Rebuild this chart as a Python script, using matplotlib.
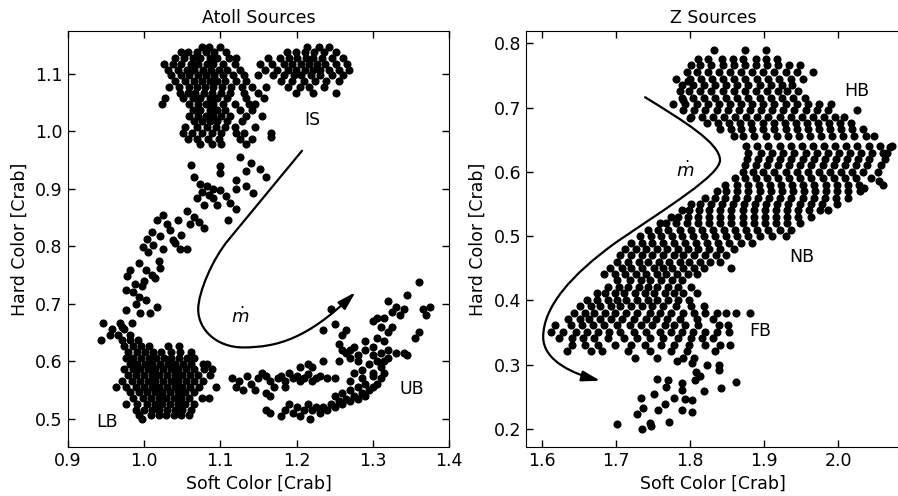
import matplotlib.pyplot as plt
from matplotlib.patches import FancyArrowPatch
from matplotlib.path import Path

# ---------------- Atoll sources (left panel) ----------------
# rows of (hard colour, [soft colours])
is_rows = [
    (1.146, [1.076, 1.085, 1.099]),
    (1.137, [1.048, 1.058, 1.069, 1.081, 1.092, 1.107]),
    (1.127, [1.041, 1.053, 1.064, 1.074, 1.086, 1.096, 1.111, 1.121]),
    (1.117, [1.026, 1.038, 1.049, 1.061, 1.071, 1.082, 1.091, 1.103, 1.119]),
    (1.107, [1.031, 1.044, 1.056, 1.066, 1.077, 1.088, 1.098, 1.109, 1.126]),
    (1.097, [1.036, 1.049, 1.059, 1.071, 1.081, 1.092, 1.104, 1.116, 1.131]),
    (1.087, [1.041, 1.054, 1.066, 1.076, 1.086, 1.096, 1.106, 1.121, 1.134]),
    (1.077, [1.033, 1.046, 1.059, 1.069, 1.080, 1.091, 1.102, 1.114, 1.129, 1.141]),
    (1.067, [1.047, 1.057, 1.067, 1.079, 1.089, 1.101, 1.113, 1.131, 1.149]),
    (1.057, [1.027, 1.051, 1.064, 1.074, 1.086, 1.096, 1.109, 1.134, 1.157]),
    (1.047, [1.024, 1.059, 1.071, 1.081, 1.091, 1.103, 1.119, 1.137, 1.146]),
    (1.037, [1.064, 1.074, 1.086, 1.096, 1.106, 1.126, 1.141]),
    (1.027, [1.059, 1.071, 1.081, 1.091, 1.101, 1.113, 1.134, 1.154]),
    (1.017, [1.066, 1.076, 1.086, 1.096, 1.109, 1.129]),
    (1.007, [1.054, 1.069, 1.083, 1.094, 1.106, 1.119, 1.146]),
    (0.997, [1.051, 1.063, 1.076, 1.089, 1.101, 1.121, 1.131, 1.166]),
    (0.987, [1.057, 1.070, 1.084, 1.098, 1.126, 1.141]),
    (0.977, [1.074, 1.089, 1.101, 1.133]),
]
is_right_rows = [
    (1.147, [1.213, 1.229, 1.243]),
    (1.137, [1.187, 1.199, 1.211, 1.223, 1.236, 1.251]),
    (1.127, [1.163, 1.178, 1.190, 1.201, 1.212, 1.222, 1.233, 1.246, 1.261]),
    (1.117, [1.152, 1.168, 1.183, 1.194, 1.206, 1.216, 1.226, 1.237, 1.251, 1.266]),
    (1.107, [1.158, 1.174, 1.188, 1.199, 1.211, 1.221, 1.231, 1.242, 1.256, 1.269]),
    (1.097, [1.150, 1.169, 1.184, 1.196, 1.206, 1.219, 1.231, 1.246, 1.261]),
    (1.087, [1.179, 1.194, 1.209, 1.224, 1.239, 1.256]),
    (1.077, [1.160, 1.188, 1.204, 1.216, 1.236]),
    (1.066, [1.199, 1.221, 1.251]),
]
arm_soft = [1.167, 1.062, 1.100, 1.100, 1.126, 1.140, 1.152, 1.160, 1.133, 1.121, 1.134, 1.143,
            1.121, 1.065, 1.073, 1.082, 1.090, 1.076, 1.085, 1.091, 1.070, 1.095, 1.079, 1.100,
            1.108, 1.113, 1.121, 1.056, 1.065, 1.072, 1.078, 1.060, 1.110, 1.025, 1.017, 1.045,
            1.034, 1.010, 1.021, 1.038, 1.048, 1.030, 0.999, 1.025, 1.047, 1.056, 1.012, 1.004,
            0.993, 1.003, 0.982, 1.021, 1.010, 0.978, 0.988, 0.997, 0.977, 0.993, 1.003, 1.017,
            0.977, 0.995, 1.008, 0.971, 0.984, 0.990, 0.985, 1.000, 1.015, 1.020, 1.005, 1.040]
arm_hard = [0.990, 0.941, 0.940, 0.927, 0.955, 0.945, 0.935, 0.921, 0.930, 0.915, 0.904, 0.893,
            0.899, 0.921, 0.909, 0.905, 0.900, 0.895, 0.889, 0.884, 0.884, 0.872, 0.872, 0.898,
            0.888, 0.876, 0.865, 0.862, 0.851, 0.842, 0.831, 0.838, 0.846, 0.854, 0.846, 0.846,
            0.828, 0.825, 0.817, 0.811, 0.820, 0.838, 0.799, 0.796, 0.796, 0.796, 0.802, 0.812,
            0.770, 0.759, 0.759, 0.762, 0.750, 0.748, 0.735, 0.730, 0.724, 0.712, 0.706, 0.695,
            0.689, 0.683, 0.683, 0.660, 0.666, 0.700, 0.720, 0.740, 0.745, 0.775, 0.790, 0.805]
lb_rows = [
    (0.666, [0.946, 0.969]),
    (0.656, [0.958, 0.974]),
    (0.646, [0.955, 0.966, 0.981]),
    (0.637, [0.944, 0.971, 0.982, 0.992]),
    (0.626, [0.974, 0.986, 0.996, 1.006, 1.031, 1.046]),
    (0.616, [0.979, 0.991, 1.001, 1.012, 1.022, 1.036, 1.047, 1.061]),
    (0.606, [0.976, 0.986, 0.996, 1.006, 1.016, 1.026, 1.036, 1.046, 1.056, 1.066]),
    (0.596, [0.981, 0.991, 1.001, 1.011, 1.021, 1.031, 1.041, 1.051, 1.061, 1.077, 1.082]),
    (0.586, [0.974, 0.985, 0.995, 1.005, 1.015, 1.025, 1.035, 1.045, 1.055, 1.066, 1.079, 1.089]),
    (0.576, [0.979, 0.990, 1.000, 1.010, 1.020, 1.030, 1.040, 1.050, 1.060, 1.071, 1.086]),
    (0.566, [0.971, 0.984, 0.995, 1.005, 1.015, 1.025, 1.035, 1.045, 1.055, 1.065, 1.077]),
    (0.556, [0.963, 0.976, 0.989, 1.000, 1.010, 1.020, 1.030, 1.040, 1.050, 1.060, 1.072, 1.094]),
    (0.546, [0.981, 0.994, 1.004, 1.014, 1.024, 1.034, 1.044, 1.054, 1.066]),
    (0.536, [0.986, 0.999, 1.009, 1.019, 1.029, 1.039, 1.049, 1.059, 1.076, 1.085]),
    (0.526, [0.976, 0.991, 1.004, 1.014, 1.024, 1.034, 1.044, 1.054, 1.066]),
    (0.516, [0.989, 1.000, 1.010, 1.020, 1.030, 1.040, 1.050, 1.061]),
    (0.506, [0.994, 1.009, 1.019, 1.029, 1.039, 1.049, 1.059]),
    (0.499, [0.997]),
]
ub_soft = [1.115, 1.120, 1.125, 1.130, 1.135, 1.140, 1.145, 1.150, 1.155, 1.160, 1.165, 1.170,
           1.175, 1.180, 1.185, 1.190, 1.195, 1.200, 1.205, 1.210, 1.215, 1.220, 1.225, 1.230,
           1.240, 1.250, 1.205, 1.215, 1.235, 1.160, 1.165, 1.160, 1.165, 1.185, 1.255,
           1.180, 1.185, 1.190, 1.195, 1.200, 1.205, 1.210, 1.215, 1.218, 1.220, 1.225, 1.230,
           1.235, 1.240, 1.245, 1.250, 1.255, 1.260, 1.265, 1.270, 1.275, 1.280, 1.285, 1.290,
           1.295, 1.300, 1.305, 1.310, 1.300, 1.290, 1.280, 1.270, 1.260, 1.250, 1.315, 1.310,
           1.305, 1.300, 1.295, 1.285, 1.280, 1.275, 1.270, 1.290, 1.300, 1.310, 1.315, 1.320,
           1.315, 1.305, 1.320, 1.325, 1.310, 1.315, 1.325, 1.330, 1.340, 1.300, 1.305, 1.270,
           1.265, 1.275, 1.280, 1.290, 1.260, 1.255, 1.270, 1.300, 1.285, 1.320, 1.330, 1.340,
           1.345, 1.360, 1.365, 1.370, 1.375, 1.360, 1.355, 1.345, 1.320, 1.335, 1.245, 1.250,
           1.235, 1.265, 1.260, 1.220]
ub_hard = [0.570, 0.555, 0.565, 0.550, 0.575, 0.560, 0.550, 0.570, 0.580, 0.575, 0.565, 0.555,
           0.570, 0.575, 0.565, 0.580, 0.570, 0.575, 0.565, 0.570, 0.578, 0.565, 0.570, 0.575,
           0.570, 0.570, 0.590, 0.595, 0.600, 0.545, 0.540, 0.515, 0.510, 0.555, 0.600,
           0.505, 0.515, 0.525, 0.510, 0.520, 0.505, 0.515, 0.525, 0.500, 0.515, 0.520, 0.510,
           0.520, 0.515, 0.525, 0.520, 0.530, 0.525, 0.535, 0.530, 0.540, 0.535, 0.545, 0.540,
           0.550, 0.555, 0.560, 0.570, 0.575, 0.560, 0.555, 0.550, 0.545, 0.540, 0.580, 0.590,
           0.600, 0.610, 0.595, 0.585, 0.600, 0.580, 0.565, 0.620, 0.625, 0.615, 0.600, 0.620,
           0.635, 0.640, 0.650, 0.660, 0.660, 0.675, 0.685, 0.695, 0.690, 0.670, 0.675, 0.620,
           0.615, 0.625, 0.610, 0.635, 0.620, 0.630, 0.605, 0.580, 0.570, 0.605, 0.615, 0.615,
           0.610, 0.738, 0.690, 0.680, 0.695, 0.650, 0.640, 0.715, 0.705, 0.680, 0.690, 0.665,
           0.655, 0.655, 0.645, 0.590]

# ---------------- Z sources (right panel) ----------------
hb_rows = [
    (0.789, [1.832, 1.874, 1.902]),
    (0.776, [1.811, 1.824, 1.843, 1.858, 1.871, 1.889, 1.903, 1.917]),
    (0.766, [1.801, 1.814, 1.829, 1.844, 1.859, 1.874, 1.889, 1.904, 1.919, 1.934, 1.949]),
    (0.756, [1.796, 1.809, 1.824, 1.839, 1.854, 1.869, 1.884, 1.899, 1.914, 1.929, 1.944, 1.966]),
    (0.745, [1.781, 1.800, 1.815, 1.830, 1.845, 1.860, 1.875, 1.890, 1.905, 1.920, 1.936, 1.952]),
    (0.735, [1.789, 1.804, 1.819, 1.834, 1.849, 1.864, 1.879, 1.894, 1.909, 1.924, 1.938]),
    (0.725, [1.786, 1.799, 1.814, 1.829, 1.844, 1.859, 1.874, 1.889, 1.904, 1.919, 1.931, 1.946]),
    (0.715, [1.789, 1.804, 1.819, 1.834, 1.849, 1.864, 1.879, 1.894, 1.909, 1.924, 1.939, 1.955]),
    (0.706, [1.777, 1.794, 1.809, 1.824, 1.839, 1.854, 1.869, 1.884, 1.899, 1.914, 1.929, 1.944,
             1.959, 1.974, 1.990]),
    (0.696, [1.791, 1.806, 1.821, 1.836, 1.851, 1.866, 1.881, 1.896, 1.911, 1.926, 1.941, 1.956,
             1.971, 1.986, 2.025]),
    (0.686, [1.801, 1.816, 1.831, 1.846, 1.861, 1.876, 1.891, 1.906, 1.921, 1.936, 1.951, 1.966,
             1.981, 1.996, 2.008]),
    (0.676, [1.823, 1.838, 1.853, 1.868, 1.883, 1.898, 1.913, 1.928, 1.943, 1.958, 1.973, 1.988,
             2.003, 2.018]),
    (0.666, [1.841, 1.855, 1.869, 1.884, 1.899, 1.914, 1.929, 1.944, 1.959, 1.974, 1.989, 2.004,
             2.019, 2.034]),
    (0.655, [1.859, 1.872, 1.887, 1.902, 1.917, 1.932, 1.947, 1.962, 1.977, 1.992, 2.007, 2.022,
             2.037, 2.049]),
]
nb_rows = [
    (0.441, [1.684, 1.699, 1.712, 1.727, 1.741, 1.756, 1.768, 1.783, 1.797, 1.809]),
    (0.451, [1.692, 1.708, 1.721, 1.735, 1.751, 1.764, 1.776, 1.791, 1.806, 1.819, 1.856]),
    (0.460, [1.701, 1.716, 1.731, 1.744, 1.758, 1.772, 1.786, 1.799, 1.814, 1.827, 1.840]),
    (0.470, [1.706, 1.721, 1.736, 1.749, 1.764, 1.779, 1.791, 1.806, 1.821, 1.835, 1.849]),
    (0.480, [1.712, 1.727, 1.741, 1.756, 1.769, 1.784, 1.798, 1.811, 1.826, 1.841, 1.859]),
    (0.490, [1.721, 1.736, 1.749, 1.764, 1.779, 1.794, 1.808, 1.823, 1.838, 1.853, 1.869, 1.884]),
    (0.500, [1.733, 1.747, 1.761, 1.776, 1.789, 1.804, 1.819, 1.834, 1.849, 1.864, 1.879, 1.894,
             1.911, 1.929]),
    (0.510, [1.744, 1.757, 1.771, 1.786, 1.801, 1.816, 1.831, 1.846, 1.861, 1.876, 1.891, 1.906,
             1.921, 1.937]),
    (0.520, [1.759, 1.768, 1.781, 1.796, 1.811, 1.826, 1.841, 1.856, 1.871, 1.886, 1.901, 1.916,
             1.931, 1.949]),
    (0.530, [1.774, 1.784, 1.797, 1.811, 1.826, 1.841, 1.856, 1.871, 1.886, 1.901, 1.916, 1.931,
             1.946, 1.963]),
    (0.540, [1.789, 1.799, 1.812, 1.826, 1.841, 1.856, 1.871, 1.886, 1.901, 1.916, 1.931, 1.946,
             1.961, 1.976, 1.986]),
    (0.550, [1.801, 1.814, 1.828, 1.843, 1.858, 1.873, 1.888, 1.903, 1.918, 1.933, 1.948, 1.963,
             1.978, 1.999]),
    (0.560, [1.821, 1.834, 1.848, 1.862, 1.877, 1.892, 1.907, 1.922, 1.937, 1.952, 1.967, 1.982,
             1.997, 2.014]),
    (0.570, [1.836, 1.849, 1.864, 1.879, 1.894, 1.909, 1.924, 1.939, 1.954, 1.969, 1.984, 1.999,
             2.014, 2.029]),
    (0.580, [1.848, 1.863, 1.878, 1.893, 1.908, 1.923, 1.938, 1.953, 1.968, 1.983, 1.998, 2.013,
             2.028, 2.060]),
    (0.590, [1.861, 1.874, 1.889, 1.904, 1.919, 1.934, 1.949, 1.964, 1.979, 1.994, 2.009, 2.024,
             2.044]),
    (0.600, [1.871, 1.885, 1.899, 1.914, 1.929, 1.944, 1.959, 1.974, 1.989, 2.004, 2.019, 2.034,
             2.054]),
    (0.610, [1.875, 1.889, 1.904, 1.919, 1.934, 1.949, 1.964, 1.979, 1.994, 2.009, 2.024, 2.039,
             2.058]),
    (0.620, [1.877, 1.892, 1.907, 1.922, 1.937, 1.952, 1.967, 1.982, 1.997, 2.012, 2.027, 2.042,
             2.063]),
    (0.630, [1.879, 1.896, 1.911, 1.926, 1.941, 1.956, 1.971, 1.986, 2.001, 2.016, 2.031, 2.046,
             2.066]),
    (0.640, [1.876, 1.891, 1.906, 1.921, 1.936, 1.951, 1.966, 1.981, 1.996, 2.011, 2.026, 2.041,
             2.056, 2.073]),
]
fb_rows = [
    (0.431, [1.702, 1.719, 1.734, 1.746, 1.761, 1.776, 1.789]),
    (0.421, [1.689, 1.704, 1.716, 1.731, 1.744, 1.756, 1.771, 1.784, 1.801]),
    (0.411, [1.674, 1.686, 1.699, 1.711, 1.726, 1.739, 1.751, 1.766, 1.779, 1.791, 1.809]),
    (0.401, [1.661, 1.674, 1.689, 1.701, 1.714, 1.729, 1.744, 1.756, 1.771, 1.784, 1.799]),
    (0.391, [1.651, 1.666, 1.679, 1.694, 1.706, 1.721, 1.736, 1.749, 1.764, 1.781, 1.801, 1.819]),
    (0.381, [1.644, 1.659, 1.671, 1.686, 1.699, 1.714, 1.729, 1.746, 1.759, 1.774, 1.791, 1.806,
             1.821, 1.836, 1.849, 1.862, 1.881]),
    (0.371, [1.636, 1.651, 1.664, 1.679, 1.694, 1.709, 1.724, 1.741, 1.754, 1.769, 1.786, 1.809,
             1.831]),
    (0.361, [1.618, 1.639, 1.654, 1.669, 1.684, 1.701, 1.719, 1.734, 1.749, 1.766, 1.779, 1.794,
             1.811, 1.839, 1.852]),
    (0.351, [1.612, 1.629, 1.646, 1.661, 1.676, 1.691, 1.706, 1.724, 1.741, 1.759, 1.774, 1.789,
             1.804, 1.821, 1.836, 1.853]),
    (0.341, [1.624, 1.641, 1.656, 1.671, 1.689, 1.711, 1.729, 1.746, 1.764, 1.784, 1.801, 1.816,
             1.831]),
    (0.331, [1.641, 1.659, 1.676, 1.699, 1.721, 1.739, 1.761, 1.779, 1.799, 1.821, 1.841, 1.854]),
    (0.321, [1.634, 1.666, 1.681, 1.716, 1.746, 1.774, 1.796, 1.834]),
    (0.311, [1.726, 1.756, 1.791, 1.806]),
]
tail_soft = [1.701, 1.735, 1.747, 1.746, 1.728, 1.737, 1.734, 1.755, 1.751, 1.757, 1.766, 1.772,
             1.768, 1.771, 1.779, 1.789, 1.789, 1.789, 1.793, 1.803, 1.803, 1.807, 1.813, 1.808,
             1.819, 1.823, 1.839, 1.839, 1.842, 1.862, 1.803, 1.782]
tail_hard = [0.208, 0.200, 0.204, 0.210, 0.224, 0.233, 0.248, 0.277, 0.255, 0.230, 0.239, 0.211,
             0.265, 0.276, 0.248, 0.272, 0.260, 0.230, 0.246, 0.245, 0.226, 0.276, 0.282, 0.289,
             0.259, 0.299, 0.300, 0.292, 0.264, 0.273, 0.302, 0.306]
hb_extra_soft = [1.798, 1.791, 1.800, 2.070, 2.060, 2.055, 2.035]
hb_extra_hard = [0.742, 0.712, 0.683, 0.639, 0.630, 0.585, 0.575]


def unpack(rows):
    xs, ys = [], []
    for y, row in rows:
        xs += row
        ys += [y] * len(row)
    return xs, ys


W, H = 898, 496
fig = plt.figure(figsize=(W / 100, H / 100), dpi=100)
bottom, top = 447.3, 31
ax1 = fig.add_axes([67.7 / W, 1 - bottom / H, (449.3 - 67.7) / W, (bottom - top) / H])
ax2 = fig.add_axes([526 / W, 1 - bottom / H, (900 - 526) / W, (bottom - top) / H])

dot = dict(s=34, c='k', linewidths=0)

for rows in (is_rows, is_right_rows, lb_rows):
    x, y = unpack(rows)
    ax1.scatter(x, y, **dot)
ax1.scatter(arm_soft, arm_hard, **dot)
ax1.scatter(ub_soft, ub_hard, **dot)

for rows in (hb_rows, nb_rows, fb_rows):
    x, y = unpack(rows)
    ax2.scatter(x, y, **dot)
ax2.scatter(tail_soft, tail_hard, **dot)
ax2.scatter(hb_extra_soft, hb_extra_hard, **dot)

# accretion-rate arrows
left_curve = Path(
    [(1.207, 0.966), (1.11, 0.81), (1.09, 0.778), (1.071, 0.72), (1.071, 0.69),
     (1.071, 0.655), (1.095, 0.624), (1.13, 0.624), (1.175, 0.624), (1.215, 0.64), (1.277, 0.72)],
    [Path.MOVETO, Path.LINETO] + [Path.CURVE4] * 9)
right_curve = Path(
    [(1.7395, 0.716), (1.79, 0.68), (1.8406, 0.645), (1.8406, 0.618), (1.8406, 0.595),
     (1.77, 0.545), (1.70, 0.49), (1.64, 0.44), (1.602, 0.39), (1.602, 0.343),
     (1.602, 0.305), (1.645, 0.285), (1.679, 0.275)],
    [Path.MOVETO] + [Path.CURVE4] * 12)
for ax, p in ((ax1, left_curve), (ax2, right_curve)):
    ax.add_patch(FancyArrowPatch(path=p, arrowstyle='-|>,head_length=1.1,head_width=0.32',
                                 mutation_scale=10, lw=1.6, color='k'))

ax1.text(1.22, 1.02, 'IS', ha='center', va='center', fontsize=12.5)
ax1.text(0.951, 0.494, 'LB', ha='center', va='center', fontsize=12.5)
ax1.text(1.351, 0.552, 'UB', ha='center', va='center', fontsize=12.5)
ax1.text(1.126, 0.677, r'$\dot{m}$', ha='center', va='center', fontsize=13)

ax2.text(2.025, 0.726, 'HB', ha='center', va='center', fontsize=12.5)
ax2.text(1.951, 0.467, 'NB', ha='center', va='center', fontsize=12.5)
ax2.text(1.895, 0.353, 'FB', ha='center', va='center', fontsize=12.5)
ax2.text(1.793, 0.602, r'$\dot{m}$', ha='center', va='center', fontsize=13)

ax1.set_xlim(0.9, 1.4)
ax1.set_ylim(0.4503, 1.1743)
ax1.set_xticks([0.9, 1.0, 1.1, 1.2, 1.3, 1.4])
ax1.set_yticks([0.5, 0.6, 0.7, 0.8, 0.9, 1.0, 1.1])
ax2.set_xlim(1.5788, 2.0835)
ax2.set_ylim(0.1715, 0.819)
ax2.set_xticks([1.6, 1.7, 1.8, 1.9, 2.0])
ax2.set_yticks([0.2, 0.3, 0.4, 0.5, 0.6, 0.7, 0.8])

for ax, title in ((ax1, 'Atoll Sources'), (ax2, 'Z Sources')):
    ax.set_title(title, fontsize=12.5, pad=6)
    ax.set_xlabel('Soft Color [Crab]', fontsize=12.5, labelpad=3)
    ax.set_ylabel('Hard Color [Crab]', fontsize=12.5, labelpad=5)
    ax.tick_params(direction='in', top=True, right=True, length=5, width=1, labelsize=12.5)
ax2.tick_params(right=False)

fig.savefig('out.png', dpi=100)
